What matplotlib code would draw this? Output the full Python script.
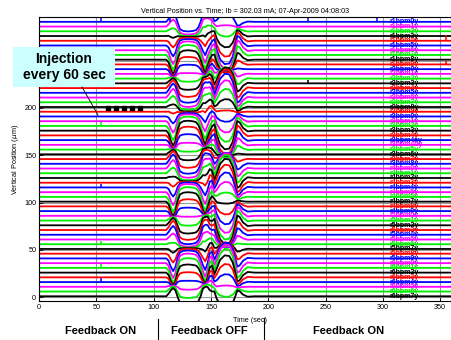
import numpy as np
import matplotlib.pyplot as plt
from matplotlib.patches import Rectangle
from matplotlib.lines import Line2D

plt.rcParams['font.family'] = ['Liberation Sans', 'DejaVu Sans']

bpm_names = ['r1bpm0y', 'r1bpm1y', 'r1bpm2y', 'r1bpm3y', 'r1bpm4y', 'r1bpm5y', 'r1bpm6y', 'r1bpm7y', 'r1bpm8y', 'r1bpm9y',
             'r2bpm0y', 'r2bpm1y', 'r2bpm2y', 'r2bpm3y', 'r2bpm4y', 'r2bpm5y', 'r2bpm6y', 'r2bpm7y', 'r2bpm8y', 'r2bpm9y',
             'r3bpm0y', 'r3bpm1y', 'r3bpm2y', 'r3bpm3y', 'r3bpm4y', 'r3bpm4ay', 'r3bpm4by', 'r3bpm5y', 'r3bpm6y', 'r3bpm7y', 'r3bpm8y',
             'r4bpm0y', 'r4bpm1y', 'r4bpm2y', 'r4bpm3y', 'r4bpm4y', 'r4bpm5y', 'r4bpm6y', 'r4bpm7y', 'r4bpm8y', 'r4bpm9y',
             'r5bpm0y', 'r5bpm1y', 'r5bpm2y', 'r5bpm3y', 'r5bpm4y', 'r5bpm5y', 'r5bpm6y', 'r5bpm7y', 'r5bpm8y', 'r5bpm9y',
             'r6bpm0y', 'r6bpm1y', 'r6bpm2y', 'r6bpm3y', 'r6bpm4y', 'r6bpm5y', 'r6bpm6y', 'r6bpm7y']

# time samples (sec) and normalised orbit response while the feedback is off
t_knots = [0, 111, 113, 115, 117, 119, 121, 123, 126, 130, 134, 137, 139, 141, 143, 145,
           147, 149, 151, 153, 155, 158, 162, 166, 169, 171, 173, 175, 178, 182, 188, 360]
plateau_shape = [0, 0, -0.3, -0.9, -1.3, -0.9, 0.1, 0.8, 1.0, 1.05, 1.0, 0.9, 0.6, 0.0, -0.9, -1.3,
                 -0.9, -0.3, 0, 0, 0, 0, 0, 0, 0, 0, 0, 0, 0, 0, 0, 0]
cross_shape = [0, 0, 0, 0, 0, 0, 0, 0, 0, 0, 0, 0, 0, 0, 0, 0,
               0, 0.2, 0.1, -0.3, 0.3, 1.0, 1.35, 1.3, 0.8, 0.1, -0.7, -0.6, -0.2, 0.05, 0, 0]
common_shape = [0, 0, 0, -0.3, -0.5, -0.3, 0, 0, 0, 0, 0, 0, 0, 0, 0, -0.3,
                0.3, 0.9, 1.0, 0.4, 0, 0, 0, 0, 0, 0, 0, 0, 0, 0, 0, 0]

# per-BPM amplitudes (um)
plateau_amp = [-9.7, -8.0, -4.8, -0.8, 3.1, 6.5, 8.9, 10.0, 9.5, 7.6,
               4.5, 0.8, -3.1, -6.5, -8.9, -10.0, -9.5, -7.6, -4.5, -0.8,
               3.4, 7.0, 9.4, 10.0, 8.8, 6.0, 2.1, -2.1, -6.0, -8.8,
               -10.0, -9.3, -7.0, -3.4, 0.9, 5.1, 8.3, 9.9, 9.5, 7.2,
               3.5, -0.9, -5.1, -8.3, -9.9, -9.5, -7.2, -3.5, 0.8, 4.8,
               8.0, 9.7, 9.8, 8.2, 5.2, 1.3, -2.9, -6.5, -9.0]
cross_amp = [6.1, 1.0, -4.1, -8.8, -12.4, -14.6, -14.9, -13.5, -10.4, -6.1,
             -1.0, 4.1, 8.8, 12.4, 14.6, 14.9, 13.5, 10.4, 6.1, 1.0,
             -4.1, -8.8, -12.4, -14.6, -14.9, -13.5, -10.4, -6.1, -1.0, 3.9,
             8.6, 12.0, 14.3, 15.0, 14.1, 11.7, 8.0, 3.4, -1.5, -6.3,
             -10.3, -13.3, -14.8, -14.8, -13.1, -10.0, -5.8, -1.0, 4.1, 8.8,
             12.4, 14.6, 14.9, 13.5, 10.4, 6.1, 1.0, -4.1, -8.8]
common_amp = 6.0

# injection kicks seen on some BPMs
spike_trace = [0, 0, 0, 0, 4, 9, 13, 22, 35, 47, 52, 55]
spike_t = [54, 114, 235, 295, 355, 355, 235, 54, 54, 54, 54, 54]
spike_h = [8, 8, 8, 8, 6, 4, 4, 4, 4, 3, 4, 4]

# injection markers
dot_t = [60, 67, 74, 81, 88]
dot_y = [200, 200, 200, 200, 200]

colors = ['#0000ff', '#ff00ff', '#00ee00', '#000000', '#ff0000']
spacing = 5.0
n = len(bpm_names)
offsets = 1.0 + spacing * (n - 1 - np.arange(n))

fig = plt.figure(figsize=(4.51, 3.40), dpi=100)
ax = fig.add_axes([0.0865, 0.1147, 0.915, 0.835])

t = np.array(t_knots)
for i in range(n):
    y = (offsets[i] + plateau_amp[i] * np.array(plateau_shape)
         + cross_amp[i] * np.array(cross_shape) + common_amp * np.array(common_shape))
    c = colors[i % 5]
    ax.plot(t, y, color=c, lw=1.3)
    ax.text(306, offsets[i], bpm_names[i], color=c, fontsize=5.0, fontweight='bold',
            va='center', ha='left')

for k, tt, h in zip(spike_trace, spike_t, spike_h):
    ax.vlines(tt, offsets[k], offsets[k] + h, color=colors[k % 5], lw=1.1)

ax.plot(dot_t, dot_y, 's', color='k', ms=2.4, ls='none')

ax.set_xlim(0, 360)
ax.set_ylim(-4, 296)
ax.set_xticks([0, 50, 100, 150, 200, 250, 300, 350])
ax.set_yticks([0, 50, 100, 150, 200, 250])
ax.set_yticklabels(['0', '50', '100', '150', '200', ''])
ax.grid(True, color='#999999', lw=0.8)
ax.set_axisbelow(True)
ax.tick_params(direction='in', length=3, labelsize=5.2, width=0.6, pad=2)
for s in ax.spines.values():
    s.set_linewidth(0.8)

ax.set_title('Vertical Position vs. Time; Ib = 302.03 mA; 07-Apr-2009 04:08:03', fontsize=5.2, pad=3)
ax.set_ylabel('Vertical Position ($\\mu$m)', fontsize=5.2, labelpad=2)
fig.text(250 / 451, 1 - 320 / 340, 'Time (sec)', fontsize=5.2, ha='center', va='center')

# feedback state captions
fig.text(101 / 451, 1 - 331 / 340, 'Feedback ON', fontsize=8, fontweight='bold', ha='center', va='center')
fig.text(209 / 451, 1 - 331 / 340, 'Feedback OFF', fontsize=8, fontweight='bold', ha='center', va='center')
fig.text(349 / 451, 1 - 331 / 340, 'Feedback ON', fontsize=8, fontweight='bold', ha='center', va='center')
for xs, y0 in [(157.5, 319), (263.5, 318)]:
    fig.add_artist(Line2D([xs / 451, xs / 451], [1 - y0 / 340, 0], color='k', lw=0.8))

# injection call-out
fig.add_artist(Rectangle((13 / 451, 1 - 87 / 340), 102 / 451, 40 / 340, facecolor='#ccffff',
                         edgecolor='none', zorder=5))
fig.text(64 / 451, 1 - 67 / 340, 'Injection\nevery 60 sec', fontsize=10, fontweight='bold',
         ha='center', va='center', linespacing=1.15, zorder=6)
fig.add_artist(Line2D([82 / 451, 98 / 451], [1 - 87 / 340, 1 - 115 / 340], color='k', lw=0.6, zorder=6))

fig.savefig('out.png', dpi=100)
